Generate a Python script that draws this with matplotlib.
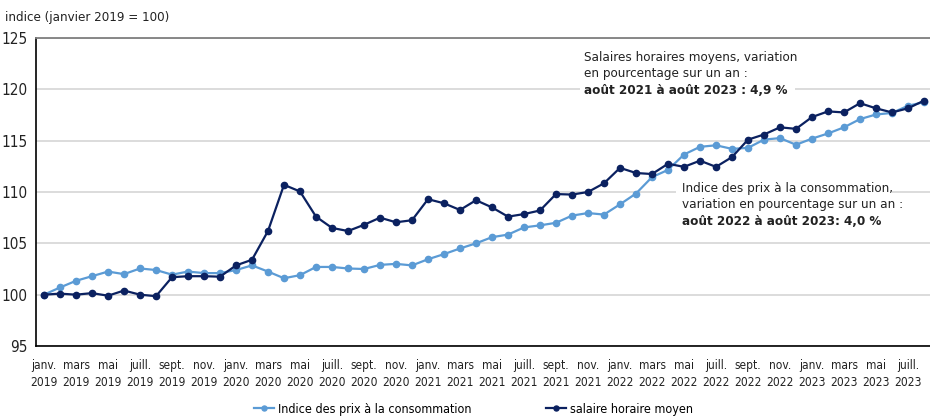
import numpy as np
import matplotlib
matplotlib.use('Agg')
import matplotlib.pyplot as plt
from matplotlib.patches import Rectangle

plt.rcParams['font.family'] = ['Liberation Sans Narrow', 'DejaVu Sans']
plt.rcParams['font.stretch'] = 'condensed'

# indices mensuels, janv. 2019 -> août 2023 (janvier 2019 = 100)
ipc = [100.0, 100.7, 101.35, 101.8, 102.25, 102.0, 102.55, 102.4, 101.95, 102.25,
       102.1, 102.1, 102.4, 102.85, 102.25, 101.6, 101.9, 102.7, 102.7, 102.55,
       102.5, 102.9, 103.0, 102.85, 103.45, 103.95, 104.5, 105.0, 105.6, 105.85,
       106.55, 106.75, 107.0, 107.7, 107.95, 107.8, 108.8, 109.85, 111.45, 112.15,
       113.65, 114.4, 114.55, 114.2, 114.3, 115.1, 115.25, 114.6, 115.2, 115.7,
       116.3, 117.1, 117.55, 117.7, 118.4, 118.75]
salaire = [100.0, 100.1, 100.0, 100.15, 99.9, 100.4, 100.0, 99.85, 101.7, 101.8,
           101.8, 101.75, 102.85, 103.4, 106.2, 110.7, 110.05, 107.6, 106.5, 106.2,
           106.8, 107.5, 107.05, 107.25, 109.3, 108.9, 108.25, 109.2, 108.5, 107.6,
           107.85, 108.2, 109.8, 109.75, 110.0, 110.85, 112.35, 111.85, 111.75, 112.75,
           112.45, 113.05, 112.45, 113.4, 115.1, 115.6, 116.3, 116.15, 117.3, 117.85,
           117.75, 118.65, 118.15, 117.75, 118.15, 118.9]

mois = ['janv.', 'mars', 'mai', 'juill.', 'sept.', 'nov.']
annees = ['2019', '2020', '2021', '2022', '2023']
yticks = [95, 100, 105, 110, 115, 120, 125]

labels = [m + '\n' + a for a in annees for m in mois][:28]
x = np.arange(len(ipc))

c_ipc = '#5b9bd5'
c_sal = '#0b2160'
c_txt = '#222222'

fig = plt.figure(figsize=(9.3, 4.19), dpi=100)
ax = fig.add_axes([36/930, 1 - 346/419, 894/930, 308/419])

ax.plot(x, ipc, color=c_ipc, lw=1.6, marker='o', ms=4.5, zorder=3,
        label='Indice des prix à la consommation')
ax.plot(x, salaire, color=c_sal, lw=1.6, marker='o', ms=4.5, zorder=4,
        label='salaire horaire moyen')

ax.set_xlim(-0.5, 55.375)
ax.set_ylim(95, 125)
ax.set_yticks(yticks)
ax.set_xticks(np.arange(0, 56, 2))
ax.set_xticklabels(labels, fontsize=8.6, color=c_txt, linespacing=1.4)
ax.tick_params(axis='both', length=0, colors=c_txt)
ax.tick_params(axis='x', pad=9)
ax.tick_params(axis='y', pad=6, labelsize=11)

ax.grid(axis='y', color='#d9d9d9', lw=1.3)
ax.set_axisbelow(True)
ax.spines['right'].set_visible(False)
ax.spines['top'].set_color('#7f7f7f')
ax.spines['top'].set_linewidth(1.3)
for s in ['left', 'bottom']:
    ax.spines[s].set_color('black')
    ax.spines[s].set_linewidth(1.2)

fig.text(5/930, 1 - 17/419, 'indice (janvier 2019 = 100)', fontsize=9.5,
         va='center', ha='left', color=c_txt)

# fonds blancs derrière les annotations
for (x0, y0, w, h) in [(580, 46, 215, 52), (676, 177, 216, 52)]:
    fig.patches.append(Rectangle((x0/930, 1 - (y0 + h)/419), w/930, h/419,
                                 transform=fig.transFigure, facecolor='white',
                                 edgecolor='none', zorder=5))

fs = 9.6
fig.text(584/930, 1 - 51/419,
         'Salaires horaires moyens, variation\nen pourcentage sur un an :',
         fontsize=fs, va='top', ha='left', color=c_txt, linespacing=1.3, zorder=10)
fig.text(584/930, 1 - 84/419, 'août 2021 à août 2023 : 4,9 %',
         fontsize=fs, fontweight='bold', va='top', ha='left', color=c_txt, zorder=10)

fig.text(682/930, 1 - 182/419,
         'Indice des prix à la consommation,\nvariation en pourcentage sur un an :',
         fontsize=fs, va='top', ha='left', color=c_txt, linespacing=1.3, zorder=10)
fig.text(682/930, 1 - 215/419, 'août 2022 à août 2023: 4,0 %',
         fontsize=fs, fontweight='bold', va='top', ha='left', color=c_txt, zorder=10)

fig.legend(loc='center', bbox_to_anchor=(0.509, 1 - 409/419), ncol=2,
           frameon=False, fontsize=9, handlelength=1.6, handletextpad=0.3,
           columnspacing=6, markerscale=0.8)

fig.savefig('out.png', dpi=100)
